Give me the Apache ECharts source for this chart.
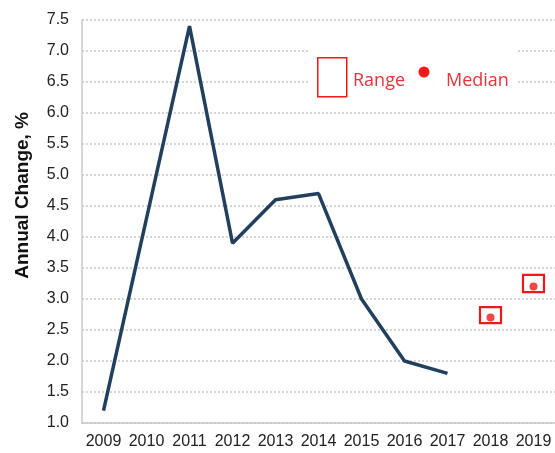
<!DOCTYPE html>
<html>
<head>
<meta charset="utf-8">
<script src="https://cdn.jsdelivr.net/npm/echarts@6/dist/echarts.min.js"></script>
<style>html,body{margin:0;padding:0;background:#fff;}#c{width:555px;height:453px;}</style>
</head>
<body>
<div id="c"></div>
<script>
var categories = ['2009','2010','2011','2012','2013','2014','2015','2016','2017','2018','2019'];
var actual = [1.2, 4.3, 7.4, 3.9, 4.6, 4.7, 3.0, 2.0, 1.8, '-', '-'];
var rangeLow = ['-','-','-','-','-','-','-','-','-', 2.61, 3.11];
var rangeHigh = ['-','-','-','-','-','-','-','-','-', 2.87, 3.39];
var median = ['-','-','-','-','-','-','-','-','-', 2.7, 3.2];
var yTicks = {min: 1.0, max: 7.5, interval: 0.5};
var legendLabels = ['Range', 'Median'];

var RED = '#f01818';
var TXTRED = '#e8333a';
var chart = echarts.init(document.getElementById('c'), null, {renderer: 'canvas'});
var rangeData = categories.map(function (c, i) {
  return rangeLow[i] === '-' ? null : [i, rangeLow[i], rangeHigh[i]];
}).filter(function (d) { return d; });

chart.setOption({
  animation: false,
  grid: {left: 82, top: 20, right: 0, bottom: 30, containLabel: false},
  xAxis: {
    type: 'category', data: categories, boundaryGap: true,
    axisLine: {lineStyle: {color: '#c8c8c8', width: 1.5}},
    axisTick: {show: false},
    axisLabel: {color: '#222', fontSize: 16, fontFamily: 'Liberation Sans', margin: 11, interval: 0},
    splitLine: {show: false}
  },
  yAxis: {
    type: 'value', min: yTicks.min, max: yTicks.max, interval: yTicks.interval,
    axisLine: {show: true, lineStyle: {color: '#c8c8c8', width: 1.5}},
    axisTick: {show: false},
    axisLabel: {color: '#222', fontSize: 16, fontFamily: 'Liberation Sans', margin: 13,
      formatter: function (v) { return v.toFixed(1); }},
    splitLine: {show: true, lineStyle: {color: '#c8c8c8', width: 1.5, type: [2, 2]}}
  },
  graphic: [{
    type: 'text', left: 13, top: 112, rotation: Math.PI / 2,
    style: {text: 'Annual Change, %', font: 'bold 19px "Liberation Sans"', fill: '#111'}
  }, {
    type: 'rect', left: 308, top: 42, z: 10,
    shape: {width: 208, height: 62},
    style: {fill: '#fff', stroke: null}
  }, {
    type: 'rect', left: 317, top: 57, z: 11,
    shape: {width: 29, height: 39},
    style: {fill: '#fff', stroke: RED, lineWidth: 1.5}
  }, {
    type: 'text', left: 353, top: 72, z: 11,
    style: {text: legendLabels[0], font: '18px "Open Sans"', fill: TXTRED}
  }, {
    type: 'circle', shape: {cx: 424, cy: 72, r: 5.5}, z: 11,
    style: {fill: RED}
  }, {
    type: 'text', left: 446, top: 72, z: 11,
    style: {text: legendLabels[1], font: '18px "Open Sans"', fill: TXTRED}
  }],
  series: [{
    name: 'Actual', type: 'line', data: actual, symbol: 'none',
    lineStyle: {color: '#22405e', width: 3.5}, z: 3
  }, {
    name: 'Range', type: 'custom', data: rangeData,
    renderItem: function (params, api) {
      var lo = api.coord([api.value(0), api.value(1)]);
      var hi = api.coord([api.value(0), api.value(2)]);
      var w = 21;
      return {
        type: 'rect',
        shape: {x: lo[0] - w / 2, y: hi[1], width: w, height: lo[1] - hi[1]},
        style: {fill: 'none', stroke: RED, lineWidth: 2.2}
      };
    },
    encode: {x: 0, y: [1, 2]}, z: 4
  }, {
    name: 'Median', type: 'scatter', data: median, symbol: 'circle', symbolSize: 8,
    itemStyle: {color: RED}, z: 5
  }]
});
</script>
</body>
</html>
